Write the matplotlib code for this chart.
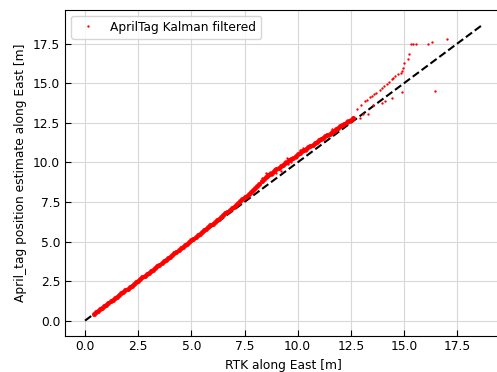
import matplotlib
matplotlib.use("Agg")
import matplotlib.pyplot as plt

# Dense part of the trajectory (RTK east vs AprilTag east)
rtk_dense = [0.4, 0.5, 0.6, 0.7, 0.8, 0.9, 1.0, 1.1, 1.2, 1.3, 1.4, 1.5, 1.6, 1.7, 1.8, 1.9,
             2.0, 2.1, 2.2, 2.3, 2.4, 2.5, 2.6, 2.7, 2.8, 2.9, 3.0, 3.1, 3.2, 3.3, 3.4, 3.5,
             3.6, 3.7, 3.8, 3.9, 4.0, 4.1, 4.2, 4.3, 4.4, 4.5, 4.6, 4.7, 4.8, 4.9, 5.0, 5.1,
             5.2, 5.3, 5.4, 5.5, 5.6, 5.7, 5.8, 5.9, 6.0, 6.1, 6.2, 6.3, 6.4, 6.5, 6.6, 6.7,
             6.8, 6.9, 7.0, 7.1, 7.2, 7.3, 7.4, 7.5, 7.6, 7.7, 7.8, 7.9, 8.0, 8.1, 8.2, 8.3,
             8.4, 8.5, 8.6, 8.7, 8.8, 8.9, 9.0, 9.1, 9.2, 9.3, 9.4, 9.5, 9.6, 9.7, 9.8, 9.9,
             10.0, 10.1, 10.2, 10.3, 10.4, 10.5, 10.6, 10.7, 10.8, 10.9, 11.0, 11.1, 11.2,
             11.3, 11.4, 11.5, 11.6, 11.7, 11.8, 11.9, 12.0, 12.1, 12.2, 12.3, 12.4, 12.5, 12.6]
tag_dense = [0.44, 0.53, 0.62, 0.72, 0.82, 0.92, 1.02, 1.12, 1.22, 1.33, 1.43, 1.52, 1.62, 1.72,
             1.82, 1.92, 2.02, 2.12, 2.22, 2.32, 2.42, 2.52, 2.62, 2.73, 2.83, 2.93, 3.03, 3.13,
             3.23, 3.34, 3.44, 3.54, 3.64, 3.74, 3.84, 3.95, 4.05, 4.15, 4.25, 4.36, 4.46, 4.56,
             4.66, 4.77, 4.87, 4.97, 5.08, 5.18, 5.29, 5.39, 5.5, 5.6, 5.7, 5.81, 5.92, 6.02,
             6.13, 6.24, 6.35, 6.45, 6.56, 6.67, 6.78, 6.89, 7.0, 7.1, 7.2, 7.32, 7.45, 7.56,
             7.68, 7.8, 7.9, 8.02, 8.15, 8.28, 8.4, 8.52, 8.65, 8.8, 8.95, 9.08, 9.2, 9.28,
             9.35, 9.45, 9.55, 9.65, 9.75, 9.85, 9.95, 10.05, 10.15, 10.22, 10.3, 10.4, 10.5,
             10.6, 10.7, 10.78, 10.85, 10.95, 11.05, 11.12, 11.2, 11.3, 11.4, 11.48, 11.55,
             11.65, 11.75, 11.82, 11.9, 12.0, 12.1, 12.2, 12.3, 12.38, 12.45, 12.52, 12.6,
             12.7, 12.8]

# Sparse / noisy samples
rtk_sparse = [8.3, 8.5, 8.6, 8.7, 8.8, 8.9, 9.0, 9.1, 9.2, 9.3, 9.4, 9.5, 9.55, 9.7, 9.9,
              10.1, 10.25, 10.4, 10.6, 10.8, 11.0, 11.2, 11.6, 11.9, 12.2, 12.3,
              12.8, 13.0, 13.15, 13.25, 13.4, 13.5, 13.6, 13.7, 13.85, 13.95, 14.05, 14.2,
              14.3, 14.42, 14.5, 14.57, 14.7, 14.84, 14.89, 14.94, 15.01, 15.17, 15.25,
              15.33, 15.4, 15.55, 16.14, 16.3, 17.03,
              12.93, 13.08, 13.32, 13.55, 13.95, 14.1, 14.42,
              14.92, 16.45]
tag_sparse = [9.0, 9.35, 9.05, 9.4, 9.2, 9.55, 9.3, 9.7, 9.45, 9.85, 10.1, 10.25, 9.9, 10.0, 10.3,
              10.8, 10.9, 10.7, 11.1, 11.25, 11.5, 11.6, 12.1, 12.15, 12.5, 12.7,
              13.35, 13.6, 13.85, 13.95, 14.1, 14.2, 14.3, 14.4, 14.6, 14.7, 14.85, 14.95,
              15.1, 15.25, 15.35, 15.43, 15.55, 15.65, 15.75, 15.96, 16.28, 16.53, 16.87,
              17.48, 17.48, 17.48, 17.48, 17.6, 17.78,
              12.8, 13.06, 13.06, 13.64, 13.75, 13.9, 14.07,
              14.45, 14.53]

ref_line = [0.0, 18.7]

plt.rcParams['font.size'] = 8.8

fig = plt.figure(figsize=(4.97, 3.72), dpi=100)
ax = fig.add_axes([0.1308, 0.098, 0.8807, 0.8758])

ax.plot(ref_line, ref_line, 'k--', lw=1.5, zorder=2)
ax.plot(rtk_dense, tag_dense, 'o', color='red', ms=3.6, mew=0, zorder=3)
ax.plot(rtk_sparse, tag_sparse, 'o', color='red', ms=1.7, mew=0, zorder=3,
        label='AprilTag Kalman filtered')

ax.set_xlim(-0.94, 19.64)
ax.set_ylim(-0.94, 19.64)
ticks = [0.0, 2.5, 5.0, 7.5, 10.0, 12.5, 15.0, 17.5]
ax.set_xticks(ticks)
ax.set_yticks(ticks)
ax.grid(True, color='#d8d8d8', lw=0.8)
ax.set_axisbelow(True)
ax.tick_params(direction='in', length=4, labelsize=8.8)

ax.set_xlabel('RTK along East [m]', fontsize=8.8)
ax.set_ylabel('April_tag position estimate along East [m]', fontsize=8.8)
ax.legend(loc='upper left', fontsize=8.8)

fig.savefig('out.png', dpi=100)
